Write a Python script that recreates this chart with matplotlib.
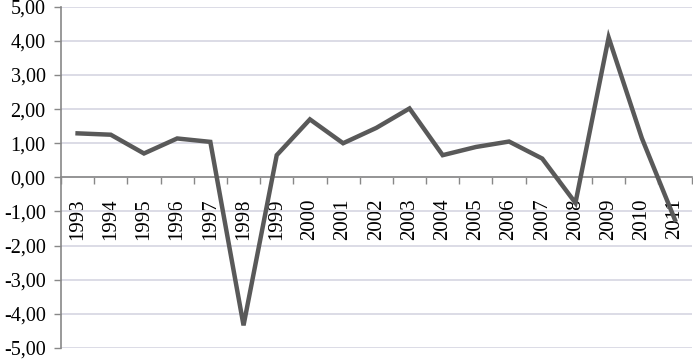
import numpy as np
import matplotlib
matplotlib.use('Agg')
import matplotlib.pyplot as plt
from matplotlib.ticker import FixedLocator, FuncFormatter

# data
years = ['1993', '1994', '1995', '1996', '1997', '1998', '1999', '2000', '2001', '2002',
         '2003', '2004', '2005', '2006', '2007', '2008', '2009', '2010', '2011']
values = [1.29, 1.25, 0.70, 1.14, 1.04, -4.34, 0.65, 1.70, 1.00, 1.45,
          2.02, 0.65, 0.89, 1.05, 0.55, -0.75, 4.10, 1.15, -1.25]
y_ticks = [-5, -4, -3, -2, -1, 0, 1, 2, 3, 4, 5]

plt.rcParams['font.family'] = ['Liberation Serif', 'DejaVu Serif']

fig = plt.figure(figsize=(6.93, 3.59), dpi=100)
ax = fig.add_axes([0.088, 0.031, 0.910, 0.950])

x = np.arange(len(years))
ax.plot(x, values, color='#595959', linewidth=3.2, solid_joinstyle='miter', zorder=3)

ax.set_xlim(-0.5, len(years) - 0.5)
ax.set_ylim(-5, 5)

# horizontal gridlines
ax.set_yticks(y_ticks)
ax.yaxis.set_major_formatter(FuncFormatter(lambda v, p: f'{v:.2f}'.replace('.', ',')))
ax.grid(axis='y', color='#d9d9e4', linewidth=1.3, zorder=0)
ax.tick_params(axis='y', direction='out', length=5, width=1, color='#888888',
               labelsize=14.5, pad=6, labelcolor='black')

# x axis sits at zero, labels rotated
ax.spines['bottom'].set_position(('data', 0))
ax.set_xticks(x)
ax.set_xticklabels(years, rotation=90, va='top')
ax.xaxis.set_minor_locator(FixedLocator(np.arange(-0.5, len(years), 1.0)))
ax.tick_params(axis='x', which='major', length=0, labelsize=15, pad=15)
ax.tick_params(axis='x', which='minor', direction='out', length=5, width=1, color='#888888')

for s in ['top', 'right']:
    ax.spines[s].set_visible(False)
for s in ['left', 'bottom']:
    ax.spines[s].set_color('#888888')
    ax.spines[s].set_linewidth(1.2)

fig.savefig('out.png', dpi=100)
